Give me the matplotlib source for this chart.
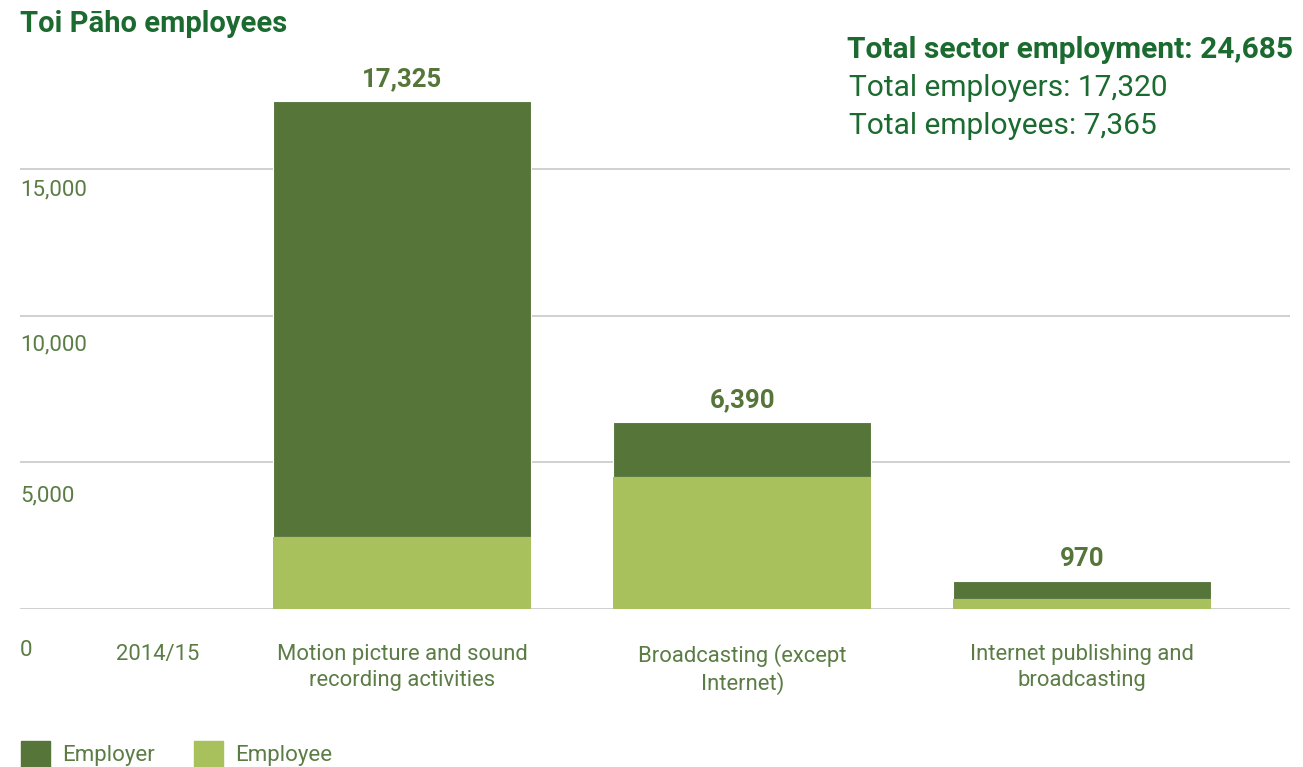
import matplotlib.pyplot as plt
from matplotlib.transforms import blended_transform_factory

# data
categories = ['Motion picture and sound\nrecording activities',
              'Broadcasting (except\nInternet)',
              'Internet publishing and\nbroadcasting']
totals = [17325, 6390, 970]
employees = [2450, 4490, 345]
employers = [t - e for t, e in zip(totals, employees)]
year_label = '2014/15'
yticks = [0, 5000, 10000, 15000]
summary = ['Total sector employment: 24,685', 'Total employers: 17,320', 'Total employees: 7,365']

dark = '#557539'
light = '#a8c15c'
title_green = '#1b6a2f'
label_green = '#5b7d45'

plt.rcParams['font.family'] = ['Roboto', 'DejaVu Sans']

fig = plt.figure(figsize=(13.03, 7.67), dpi=100)
ax = fig.add_axes([20 / 1303, 158 / 767, 1270 / 1303, 529 / 767])

x = [1, 2, 3]
ax.bar(x, employees, width=0.76, color=light, zorder=3)
ax.bar(x, employers, bottom=employees, width=0.76, color=dark, zorder=3,
       edgecolor='white', linewidth=0.8)
# redraw employee layer clean under the white line
ax.bar(x, employees, width=0.76, color=light, zorder=3.5)

for xi, t in zip(x, totals):
    ax.annotate(f'{t:,}', (xi, t), xytext=(0, 7), textcoords='offset points',
                ha='center', va='bottom', fontsize=18.5, fontweight='bold', color=dark)

ax.set_xlim(-0.124, 3.611)
ax.set_ylim(0, 18034)

for v in yticks:
    ax.axhline(v, color='#c8c8c8', linewidth=1.2, zorder=1)

# y labels sit a little below their gridlines
label_offsets = [1430, 1160, 990, 720]
trans = blended_transform_factory(ax.transAxes, ax.transData)
for v, off in zip(yticks, label_offsets):
    ax.text(0.0, v - off, f'{v:,}', transform=trans, ha='left', va='center',
            fontsize=16, color=label_green)

ax.set_yticks([])
ax.set_xticks([0.28] + x)
ax.set_xticklabels([year_label] + categories, fontsize=15.8, color=label_green,
                   linespacing=1.3)
ax.tick_params(axis='x', length=0, pad=25)
for s in ax.spines.values():
    s.set_visible(False)

fig.text(20 / 1303, 1 - 24 / 767, 'Toi Pāho employees', ha='left', va='center',
         fontsize=21, fontweight='bold', color=title_green)

fig.text(1293 / 1303, 1 - 50 / 767, summary[0], ha='right', va='center',
         fontsize=21.5, fontweight='bold', color=title_green)
for i, line in enumerate(summary[1:]):
    fig.text(849 / 1303, 1 - (88 + 38 * i) / 767, line, ha='left', va='center',
             fontsize=21.5, color=title_green)

handles = [plt.Rectangle((0, 0), 1, 1, color=dark), plt.Rectangle((0, 0), 1, 1, color=light)]
fig.legend(handles, ['Employer', 'Employee'], loc='center left',
           bbox_to_anchor=(1 / 1303, 1 - 754 / 767), ncol=2, frameon=False,
           fontsize=16, labelcolor=label_green, handlelength=1.3, handleheight=1.45,
           handletextpad=0.55, columnspacing=1.75)

fig.savefig('out.png', dpi=100)
